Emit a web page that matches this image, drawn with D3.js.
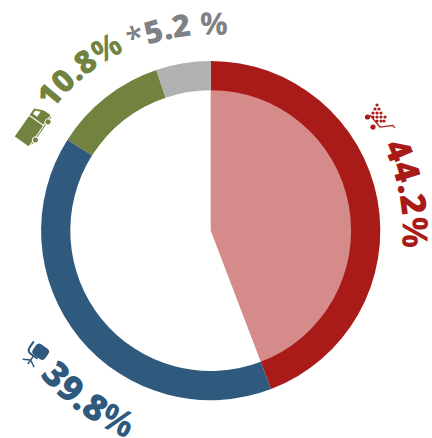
<!DOCTYPE html>
<html><head><meta charset="utf-8">
<script src="https://cdn.jsdelivr.net/npm/d3@7"></script>
<style>html,body{margin:0;padding:0;background:#fff}svg{display:block}text{font-family:"Open Sans";font-weight:800}</style>
</head><body><div id="c"></div>
<script>
const categories = ["Food","Furniture","Transport","Other"];
const shares = [44.2, 39.8, 10.8, 5.2];
const labelNumbers = ["44.2","39.8","10.8","5.2 "];
const labelPrefix = ["","","","*"];
const colors = ["#a91b18","#2f5a7d","#72833f","#b0b1b3"];
const textColors = ["#a91b18","#2f5a7d","#72833f","#808184"];
const labelRadius = [192,224,199,196];
const labelShift = [0,-15,-1,0];
const labelSize = [35,36,32,31];
const labelSpacing = [0.5,0.7,0,0];
const clockwise = [true,false,true,true];

const W=432,H=438,cx=210.7,cy=230.6,R=169.6,r=140.4;
const svg=d3.select("#c").append("svg").attr("width",W).attr("height",H);
const g=svg.append("g").attr("transform",`translate(${cx},${cy})`);
const pie=d3.pie().sort(null).value(d=>d)(shares);
const arc=d3.arc().outerRadius(R).innerRadius(r);
g.append("path").attr("d",d3.arc().outerRadius(r+0.5).innerRadius(0)(pie[0])).attr("fill","#d58b89");
g.selectAll("path.ring").data(pie).join("path").attr("class","ring").attr("d",arc).attr("fill",(d,i)=>colors[i]);

const rad=Math.PI/180;
pie.forEach((d,i)=>{
  const mid=(d.startAngle+d.endAngle)/2+labelShift[i]*rad;
  const a=mid-Math.PI/2, span=80*rad, p=d3.path(), lr=labelRadius[i];
  if(clockwise[i]) { p.moveTo(lr*Math.cos(a-span),lr*Math.sin(a-span)); p.arc(0,0,lr,a-span,a+span,false);}
  else { p.moveTo(lr*Math.cos(a+span),lr*Math.sin(a+span)); p.arc(0,0,lr,a+span,a-span,true);}
  g.append("path").attr("id","lp"+i).attr("d",p.toString()).attr("fill","none");
  const tp=g.append("text").attr("fill",textColors[i]).attr("font-size",labelSize[i]).attr("letter-spacing",labelSpacing[i]).attr("text-anchor","middle")
   .append("textPath").attr("href","#lp"+i).attr("startOffset","50%");
  if(labelPrefix[i]) tp.append("tspan").attr("font-weight",600).text(labelPrefix[i]);
  tp.append("tspan").text(labelNumbers[i]);
  tp.append("tspan").attr("font-weight",700).text("%");
});

// icons
const cart=svg.append("g").attr("transform","translate(378,118)").attr("fill",colors[0]);
[[-2,-13],[-4,-9],[0,-9],[-6,-5],[-2,-5],[2,-5],[-6,-1],[-2,-1],[2,-1],[6,-1],[-2,3],[2,3],[5,3]].forEach(c=>cart.append("circle").attr("cx",c[0]+1).attr("cy",c[1]).attr("r",1.6));
cart.append("circle").attr("cx",-10.5).attr("cy",-1).attr("r",2.6);
cart.append("circle").attr("cx",-5).attr("cy",9).attr("r",2.6);
cart.append("path").attr("d","M-8,-3L2,9L15,7.5L17,10").attr("fill","none").attr("stroke",colors[0]).attr("stroke-width",1.2);

const truck=svg.append("g").attr("transform","translate(33,126) rotate(-55)").attr("fill",colors[2]);
truck.append("path").attr("d","M-19,-9H6V8H-19Z");
truck.append("path").attr("d","M7,-9H15L19,0V8H7Z");
truck.append("path").attr("d","M10,-7H14L16,-2H10Z").attr("fill","#fff");
truck.append("path").attr("d","M-16,9H18V10H-16Z");
truck.append("circle").attr("cx",-10).attr("cy",10).attr("r",3).attr("stroke","#fff");
truck.append("circle").attr("cx",12).attr("cy",10).attr("r",3).attr("stroke","#fff");

const chair=svg.append("g").attr("transform","translate(35,352) rotate(35)").attr("fill",colors[1]);
chair.append("rect").attr("x",-3).attr("y",-10).attr("width",15).attr("height",13).attr("rx",4);
chair.append("path").attr("d","M-7,-8V-1Q-7,4 -2,4H6").attr("fill","none").attr("stroke",colors[1]).attr("stroke-width",2);
chair.append("path").attr("d","M1,4V9M-6,13L1,9L8,13M1,9V14").attr("fill","none").attr("stroke",colors[1]).attr("stroke-width",1.5);
</script></body></html>
